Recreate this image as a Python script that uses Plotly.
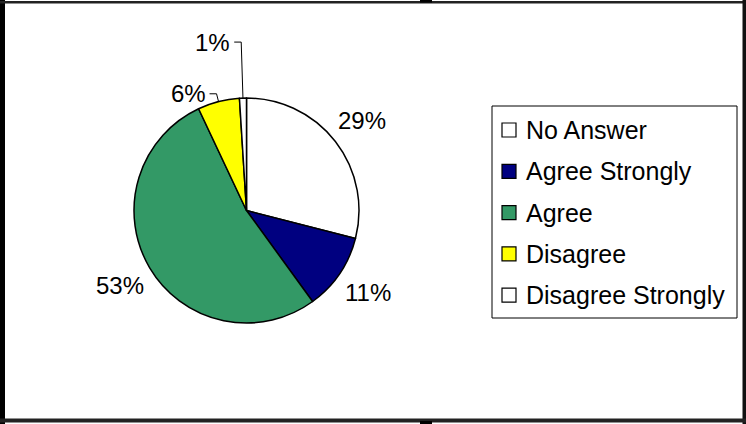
import math
import plotly.graph_objects as go

# ---- data ----
categories = ["No Answer", "Agree Strongly", "Agree", "Disagree", "Disagree Strongly"]
percent_values = [29, 11, 53, 6, 1]
slice_colors = ["#FFFFFF", "#000080", "#339966", "#FFFF00", "#FFFFFF"]

W, H = 746, 424
FONT = "Arial, Liberation Sans, sans-serif"
FS = 24
FS_LEG = 25

# pie geometry (pixels)
CX, CY, R = 246.5, 210.5, 112.5


def px(x):
    return x / W


def py(y):
    return 1 - y / H


fig = go.Figure()
fig.add_trace(go.Pie(
    labels=categories,
    values=percent_values,
    marker=dict(colors=slice_colors, line=dict(color="black", width=1.5)),
    sort=False,
    direction="clockwise",
    rotation=0,
    textinfo="none",
    hoverinfo="label+percent",
    showlegend=False,
    domain=dict(x=[px(CX - R), px(CX + R)], y=[py(CY + R), py(CY - R)]),
))

shapes = []
annotations = []

# ---- slice labels ----
total = float(sum(percent_values))
cum = 0.0
leader_ext = {"Disagree": 8, "Disagree Strongly": 56}
for cat, v in zip(categories, percent_values):
    frac = v / total
    mid = (cum + frac / 2) * 2 * math.pi
    cum += frac
    dx, dy = math.sin(mid), -math.cos(mid)
    txt = f"{round(frac * 100):.0f}%"
    if cat in leader_ext:
        ex, ey = CX + R * dx, CY + R * dy
        kx, ky = CX + (R + leader_ext[cat]) * dx, CY + (R + leader_ext[cat]) * dy
        hx = kx - 7
        shapes.append(dict(type="path", xref="paper", yref="paper",
                           path=f"M {px(ex)},{py(ey)} L {px(kx)},{py(ky)} L {px(hx)},{py(ky)}",
                           line=dict(color="black", width=1)))
        annotations.append(dict(x=px(hx - 2), y=py(ky), xref="paper", yref="paper",
                                text=txt, showarrow=False, xanchor="right", yanchor="middle",
                                font=dict(family=FONT, size=FS, color="black")))
    else:
        rl = R + 34
        annotations.append(dict(x=px(CX + rl * dx), y=py(CY + rl * dy), xref="paper", yref="paper",
                                text=txt, showarrow=False, xanchor="center", yanchor="middle",
                                font=dict(family=FONT, size=FS, color="black")))

# ---- legend (manual) ----
LX0, LY0, LX1, LY1 = 492, 106, 737, 318
shapes.append(dict(type="rect", xref="paper", yref="paper",
                   x0=px(LX0), x1=px(LX1), y0=py(LY1), y1=py(LY0),
                   line=dict(color="black", width=1), fillcolor="rgba(0,0,0,0)"))
for i, (cat, col) in enumerate(zip(categories, slice_colors)):
    yc = 130 + i * 41.3
    shapes.append(dict(type="rect", xref="paper", yref="paper",
                       x0=px(502), x1=px(516), y0=py(yc + 7), y1=py(yc - 7),
                       line=dict(color="black", width=1.2), fillcolor=col))
    annotations.append(dict(x=px(524), y=py(yc), xref="paper", yref="paper",
                            text=cat, showarrow=False, xanchor="left", yanchor="middle",
                            font=dict(family=FONT, size=FS_LEG, color="black")))

# ---- outer frame ----
frame = [
    (0, 0, 5, H, "black"),
    (0, 1, W, 3.5, "#222222"),
    (742.5, 0, W, H, "#111111"),
    (0, 418.5, W, 422.5, "#222222"),
    (420, 0, 432, 2.5, "black"),
    (420, 421, 432, H, "black"),
]
for x0, y0, x1, y1, c in frame:
    shapes.append(dict(type="rect", xref="paper", yref="paper",
                       x0=px(x0), x1=px(x1), y0=py(y1), y1=py(y0),
                       line=dict(width=0), fillcolor=c))

fig.update_layout(
    width=W, height=H,
    margin=dict(l=0, r=0, t=0, b=0),
    paper_bgcolor="white",
    plot_bgcolor="white",
    shapes=shapes,
    annotations=annotations,
)

fig.write_html("out.html")
